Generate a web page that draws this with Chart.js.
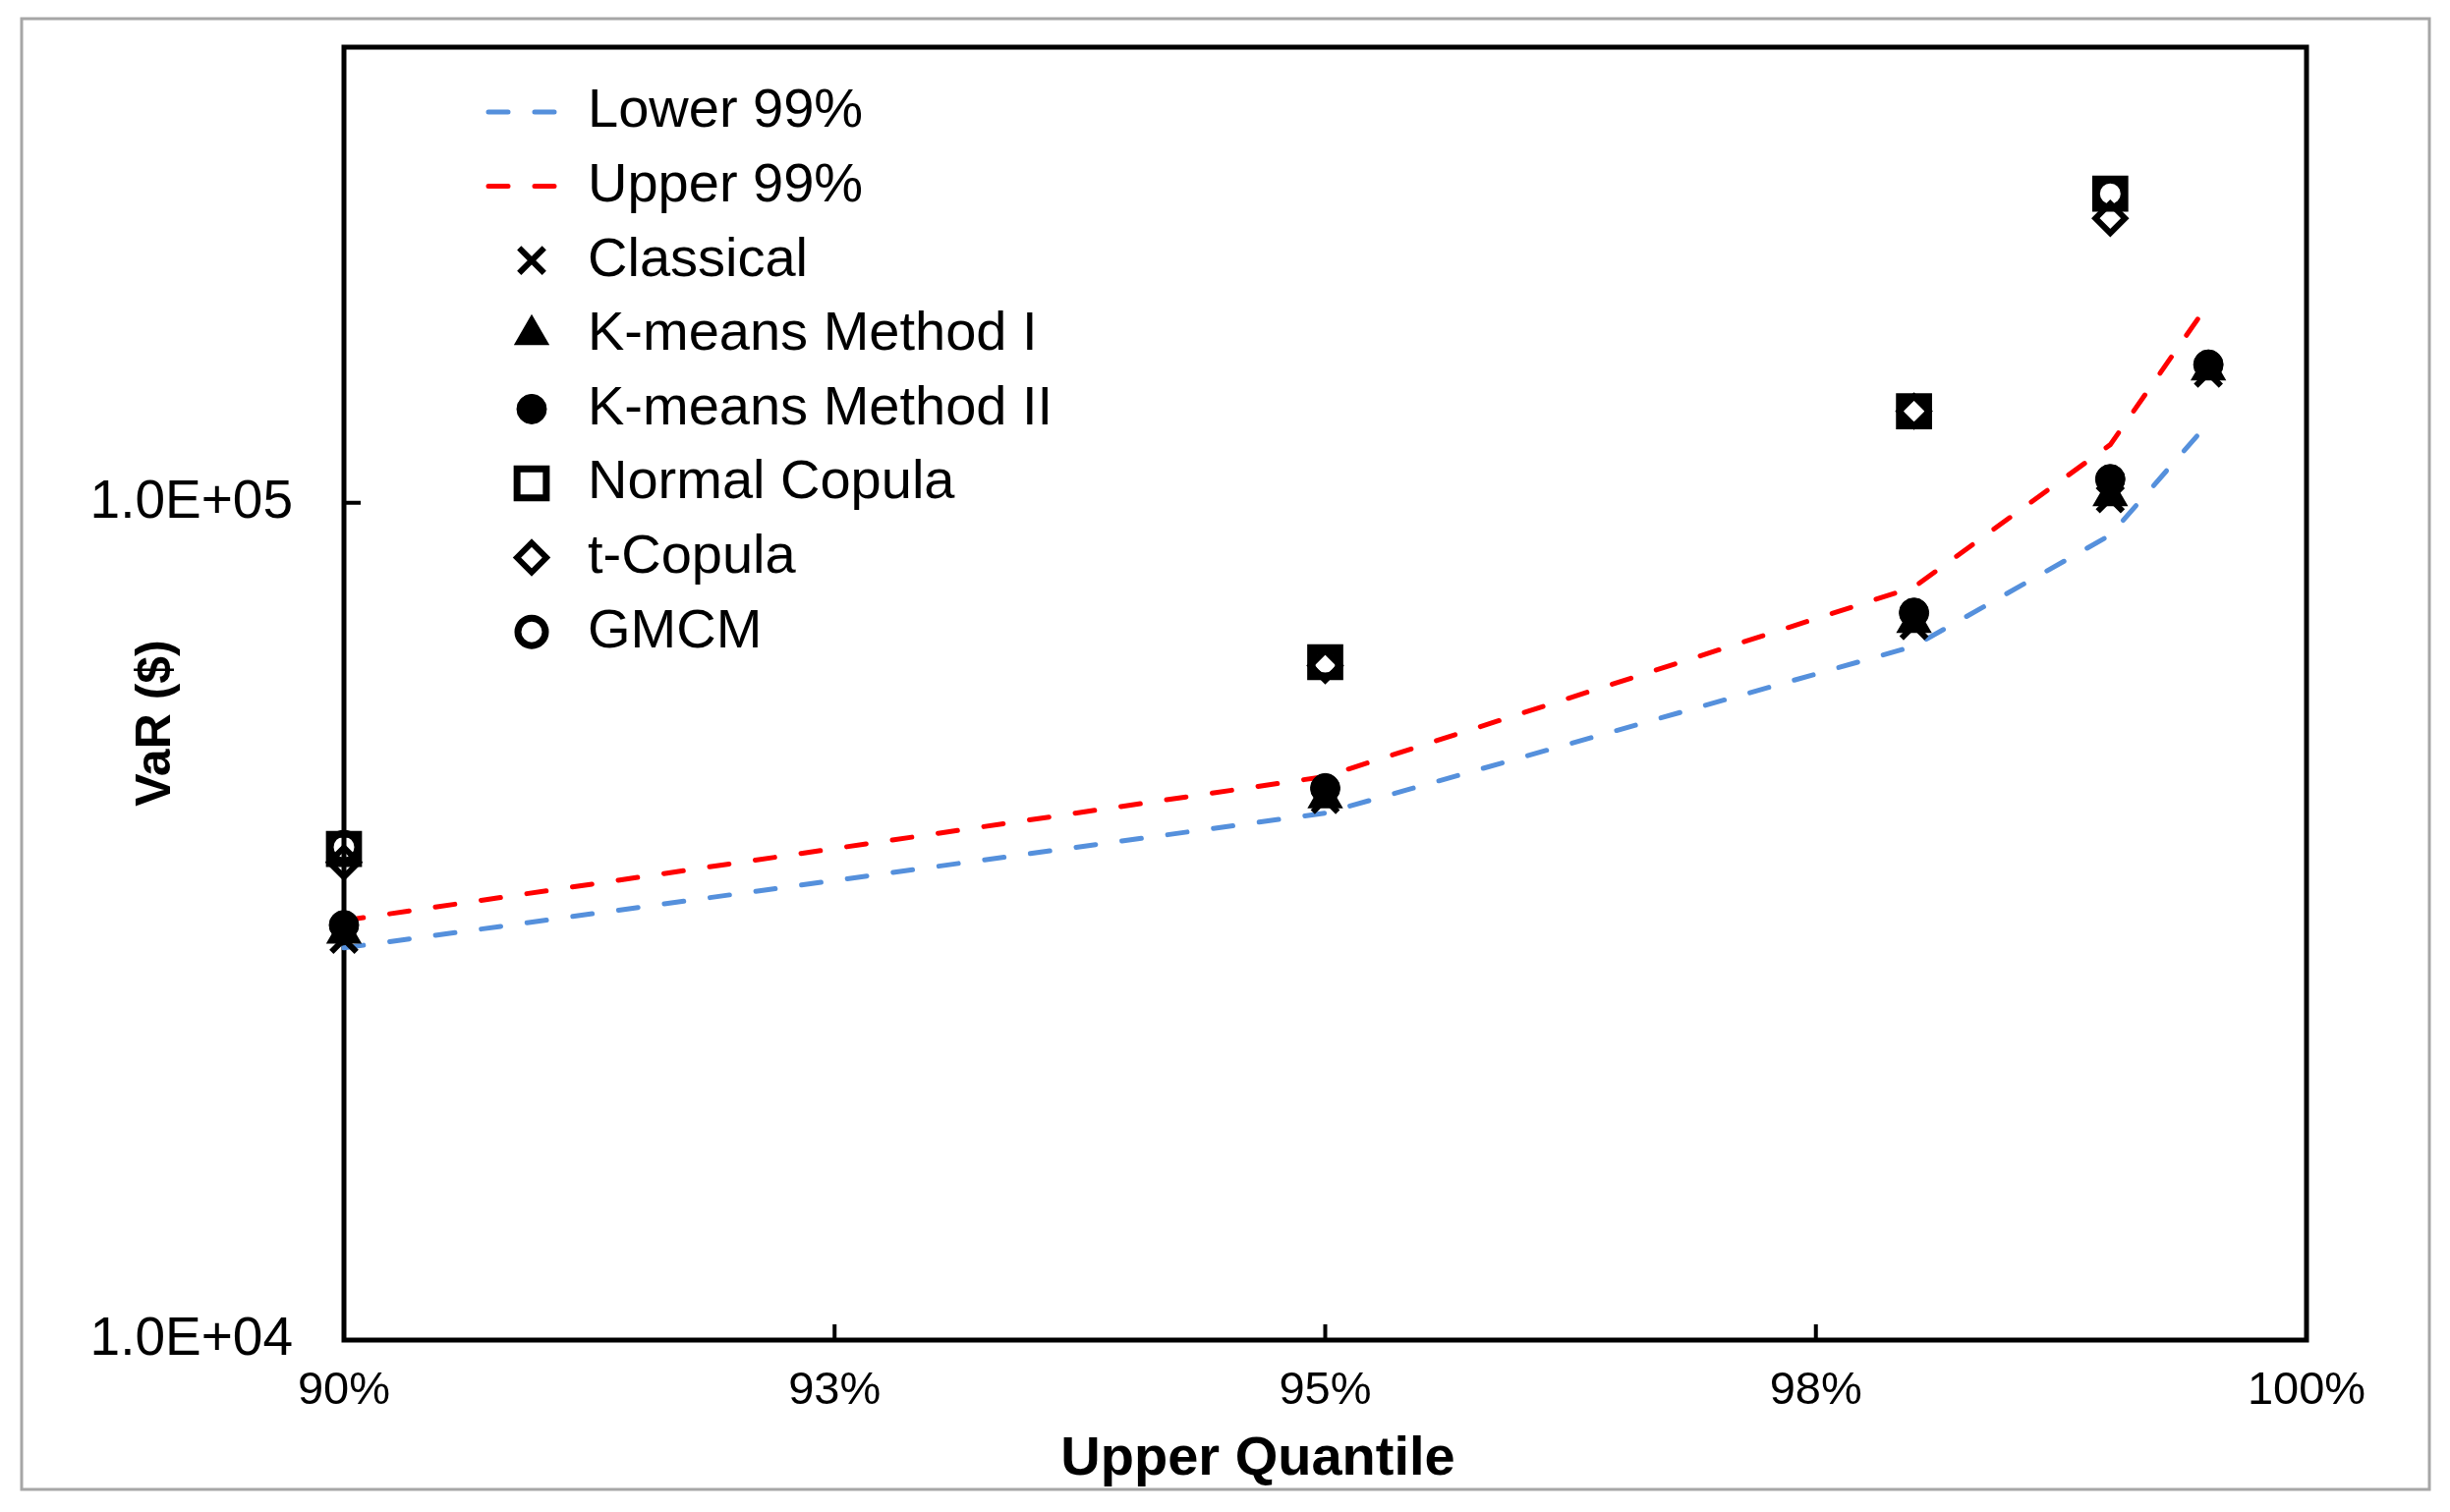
<!DOCTYPE html>
<html>
<head>
<meta charset="utf-8">
<title>VaR by Upper Quantile</title>
<script src="https://cdn.jsdelivr.net/npm/chart.js@4.4.1/dist/chart.umd.min.js"></script>
<style>
  html, body { margin: 0; padding: 0; background: #fff; }
  #chartBox { position: relative; width: 2493px; height: 1539px; }
</style>
</head>
<body>
<div id="chartBox"><canvas id="varChart" width="2493" height="1539"></canvas></div>
<script>
// VaR chart: confidence band plus estimates from each method

// Quantile levels (x values)
const quantiles = [0.90, 0.95, 0.98, 0.99, 0.995];
const copulaQuantiles = [0.90, 0.95, 0.98, 0.99];

// 99% band around the classical estimate ($)
const lower99 = [29400, 42600, 67400, 91500, 124500];
const upper99 = [31700, 47100, 79300, 117300, 172800];

// VaR estimates ($)
const classical = [30100, 44200, 71300, 101100, 142800];
const kmeansOne = [30600, 44400, 71900, 101900, 144000];
const kmeansTwo = [31300, 45600, 73900, 106700, 146200];
const normalCopula = [38600, 64500, 128600, 233900];
const tCopula = [37200, 63900, 128600, 218600];
const gmcm = [38800, 64500, 128600, 233900];

// Axis ticks
const xTickValues = [0.9, 0.925, 0.95, 0.975, 1.0];
const yTickValues = [10000, 100000];

const FONT = '"Liberation Sans", Arial, Helvetica, sans-serif';
const DASH = [20, 27];

function toPoints(xs, ys) {
  return ys.map((y, i) => ({ x: xs[i], y: y }));
}

// Dashed band line
function lineSet(label, values, color) {
  return {
    label: label,
    data: toPoints(quantiles, values),
    showLine: true,
    borderColor: color,
    backgroundColor: color,
    borderWidth: 5,
    borderDash: DASH,
    borderCapStyle: 'round',
    pointRadius: 0,
    pointHoverRadius: 0,
    tension: 0,
    clip: false
  };
}

// Black marker series
function markerSet(label, xs, values, style, radius, filled, lineWidth) {
  return {
    label: label,
    data: toPoints(xs, values),
    showLine: false,
    pointStyle: style,
    pointRadius: radius,
    pointHoverRadius: radius,
    pointBackgroundColor: filled ? '#000' : 'rgba(0,0,0,0)',
    pointBorderColor: '#000',
    pointBorderWidth: lineWidth,
    pointHoverBorderWidth: lineWidth,
    clip: false
  };
}

const datasets = [
  lineSet('Lower 99%', lower99, '#5590dc'),
  lineSet('Upper 99%', upper99, '#ff0000'),
  markerSet('Classical', quantiles, classical, 'crossRot', 18, false, 6),
  markerSet('K-means Method I', quantiles, kmeansOne, 'triangle', 19, true, 2),
  markerSet('K-means Method II', quantiles, kmeansTwo, 'circle', 15, true, 1),
  markerSet('Normal Copula', copulaQuantiles, normalCopula, 'rect', 21, false, 7),
  markerSet('t-Copula', copulaQuantiles, tCopula, 'rectRot', 15, false, 6),
  markerSet('GMCM', copulaQuantiles, gmcm, 'circle', 14, false, 7)
];
// later series are painted on top
datasets.forEach((ds, i) => { ds.order = datasets.length - i; });

function formatSci(v) {
  const exp = Math.round(Math.log10(v));
  const mant = v / Math.pow(10, exp);
  return mant.toFixed(1) + 'E+' + String(exp).padStart(2, '0');
}

// Frame, plot box, inward tick marks and axis titles
const framePlugin = {
  id: 'frame',
  beforeDraw(chart) {
    const ctx = chart.ctx;
    ctx.save();
    ctx.fillStyle = '#fff';
    ctx.fillRect(0, 0, chart.width, chart.height);
    ctx.strokeStyle = '#a6a6a6';
    ctx.lineWidth = 3;
    ctx.strokeRect(22, 19, 2450, 1497);
    ctx.restore();
  },
  beforeDatasetsDraw(chart) {
    const ctx = chart.ctx;
    const a = chart.chartArea;
    const xs = chart.scales.x;
    const ys = chart.scales.y;
    ctx.save();
    ctx.strokeStyle = '#000';
    ctx.lineWidth = 5;
    ctx.strokeRect(a.left, a.top, a.right - a.left, a.bottom - a.top);
    ctx.lineWidth = 4;
    ctx.beginPath();
    xTickValues.forEach(v => {
      const px = xs.getPixelForValue(v);
      ctx.moveTo(px, a.bottom);
      ctx.lineTo(px, a.bottom - 16);
    });
    yTickValues.forEach(v => {
      const py = ys.getPixelForValue(v);
      ctx.moveTo(a.left, py);
      ctx.lineTo(a.left + 17, py);
    });
    ctx.stroke();
    ctx.restore();
  },
  afterDraw(chart) {
    const ctx = chart.ctx;
    ctx.save();
    ctx.fillStyle = '#000';
    ctx.font = 'bold 56px ' + FONT;
    ctx.textAlign = 'center';
    ctx.textBaseline = 'middle';
    ctx.fillText('Upper Quantile', 1280, 1486);
    ctx.translate(159, 736);
    ctx.rotate(-Math.PI / 2);
    ctx.font = 'bold 50px ' + FONT;
    ctx.fillText('VaR ($)', 0, 0);
    ctx.restore();
  }
};

// Legend drawn inside the plot box, upper left
const insideLegend = {
  id: 'insideLegend',
  afterDraw(chart) {
    const ctx = chart.ctx;
    chart.data.datasets.forEach((ds, i) => {
      const y = 114 + i * 75.6;
      ctx.save();
      if (ds.showLine) {
        ctx.strokeStyle = ds.borderColor;
        ctx.lineWidth = ds.borderWidth;
        ctx.lineCap = 'round';
        ctx.setLineDash(DASH);
        ctx.beginPath();
        ctx.moveTo(497, y);
        ctx.lineTo(566, y);
        ctx.stroke();
      } else {
        ctx.fillStyle = ds.pointBackgroundColor;
        ctx.strokeStyle = ds.pointBorderColor;
        ctx.lineWidth = ds.pointBorderWidth;
        Chart.helpers.drawPoint(ctx, {
          pointStyle: ds.pointStyle,
          radius: ds.pointRadius,
          borderWidth: ds.pointBorderWidth,
          rotation: 0
        }, 541, y);
      }
      ctx.fillStyle = '#000';
      ctx.font = '56px ' + FONT;
      ctx.textAlign = 'left';
      ctx.textBaseline = 'middle';
      ctx.fillText(ds.label, 598, y);
      ctx.restore();
    });
  }
};

const ctx = document.getElementById('varChart').getContext('2d');
window.varChart = new Chart(ctx, {
  type: 'scatter',
  data: { datasets: datasets },
  options: {
    responsive: false,
    devicePixelRatio: 1,
    animation: false,
    events: [],
    layout: { padding: { top: 48, right: 146, left: 0, bottom: 0 } },
    plugins: {
      legend: { display: false },
      tooltip: { enabled: false }
    },
    scales: {
      x: {
        type: 'linear',
        min: 0.9,
        max: 1.0,
        grid: { display: false },
        border: { display: false },
        afterBuildTicks: scale => { scale.ticks = xTickValues.map(v => ({ value: v })); },
        afterFit: scale => {
          scale.height = 175;
          scale.paddingLeft = 0;
          scale.paddingRight = 0;
        },
        ticks: {
          autoSkip: false,
          maxRotation: 0,
          padding: 16,
          color: '#000',
          font: { family: FONT, size: 47 },
          callback: v => Math.round(Math.round(v * 1000) / 10) + '%'
        }
      },
      y: {
        type: 'logarithmic',
        min: 10000,
        max: 350000,
        grid: { display: false },
        border: { display: false },
        afterBuildTicks: scale => { scale.ticks = yTickValues.map(v => ({ value: v })); },
        afterFit: scale => {
          scale.width = 350;
          scale.paddingTop = 0;
          scale.paddingBottom = 0;
        },
        ticks: {
          autoSkip: false,
          padding: 44,
          color: '#000',
          major: { enabled: false },
          font: { family: FONT, size: 55 },
          callback: v => formatSci(v)
        }
      }
    }
  },
  plugins: [framePlugin, insideLegend]
});
</script>
</body>
</html>
